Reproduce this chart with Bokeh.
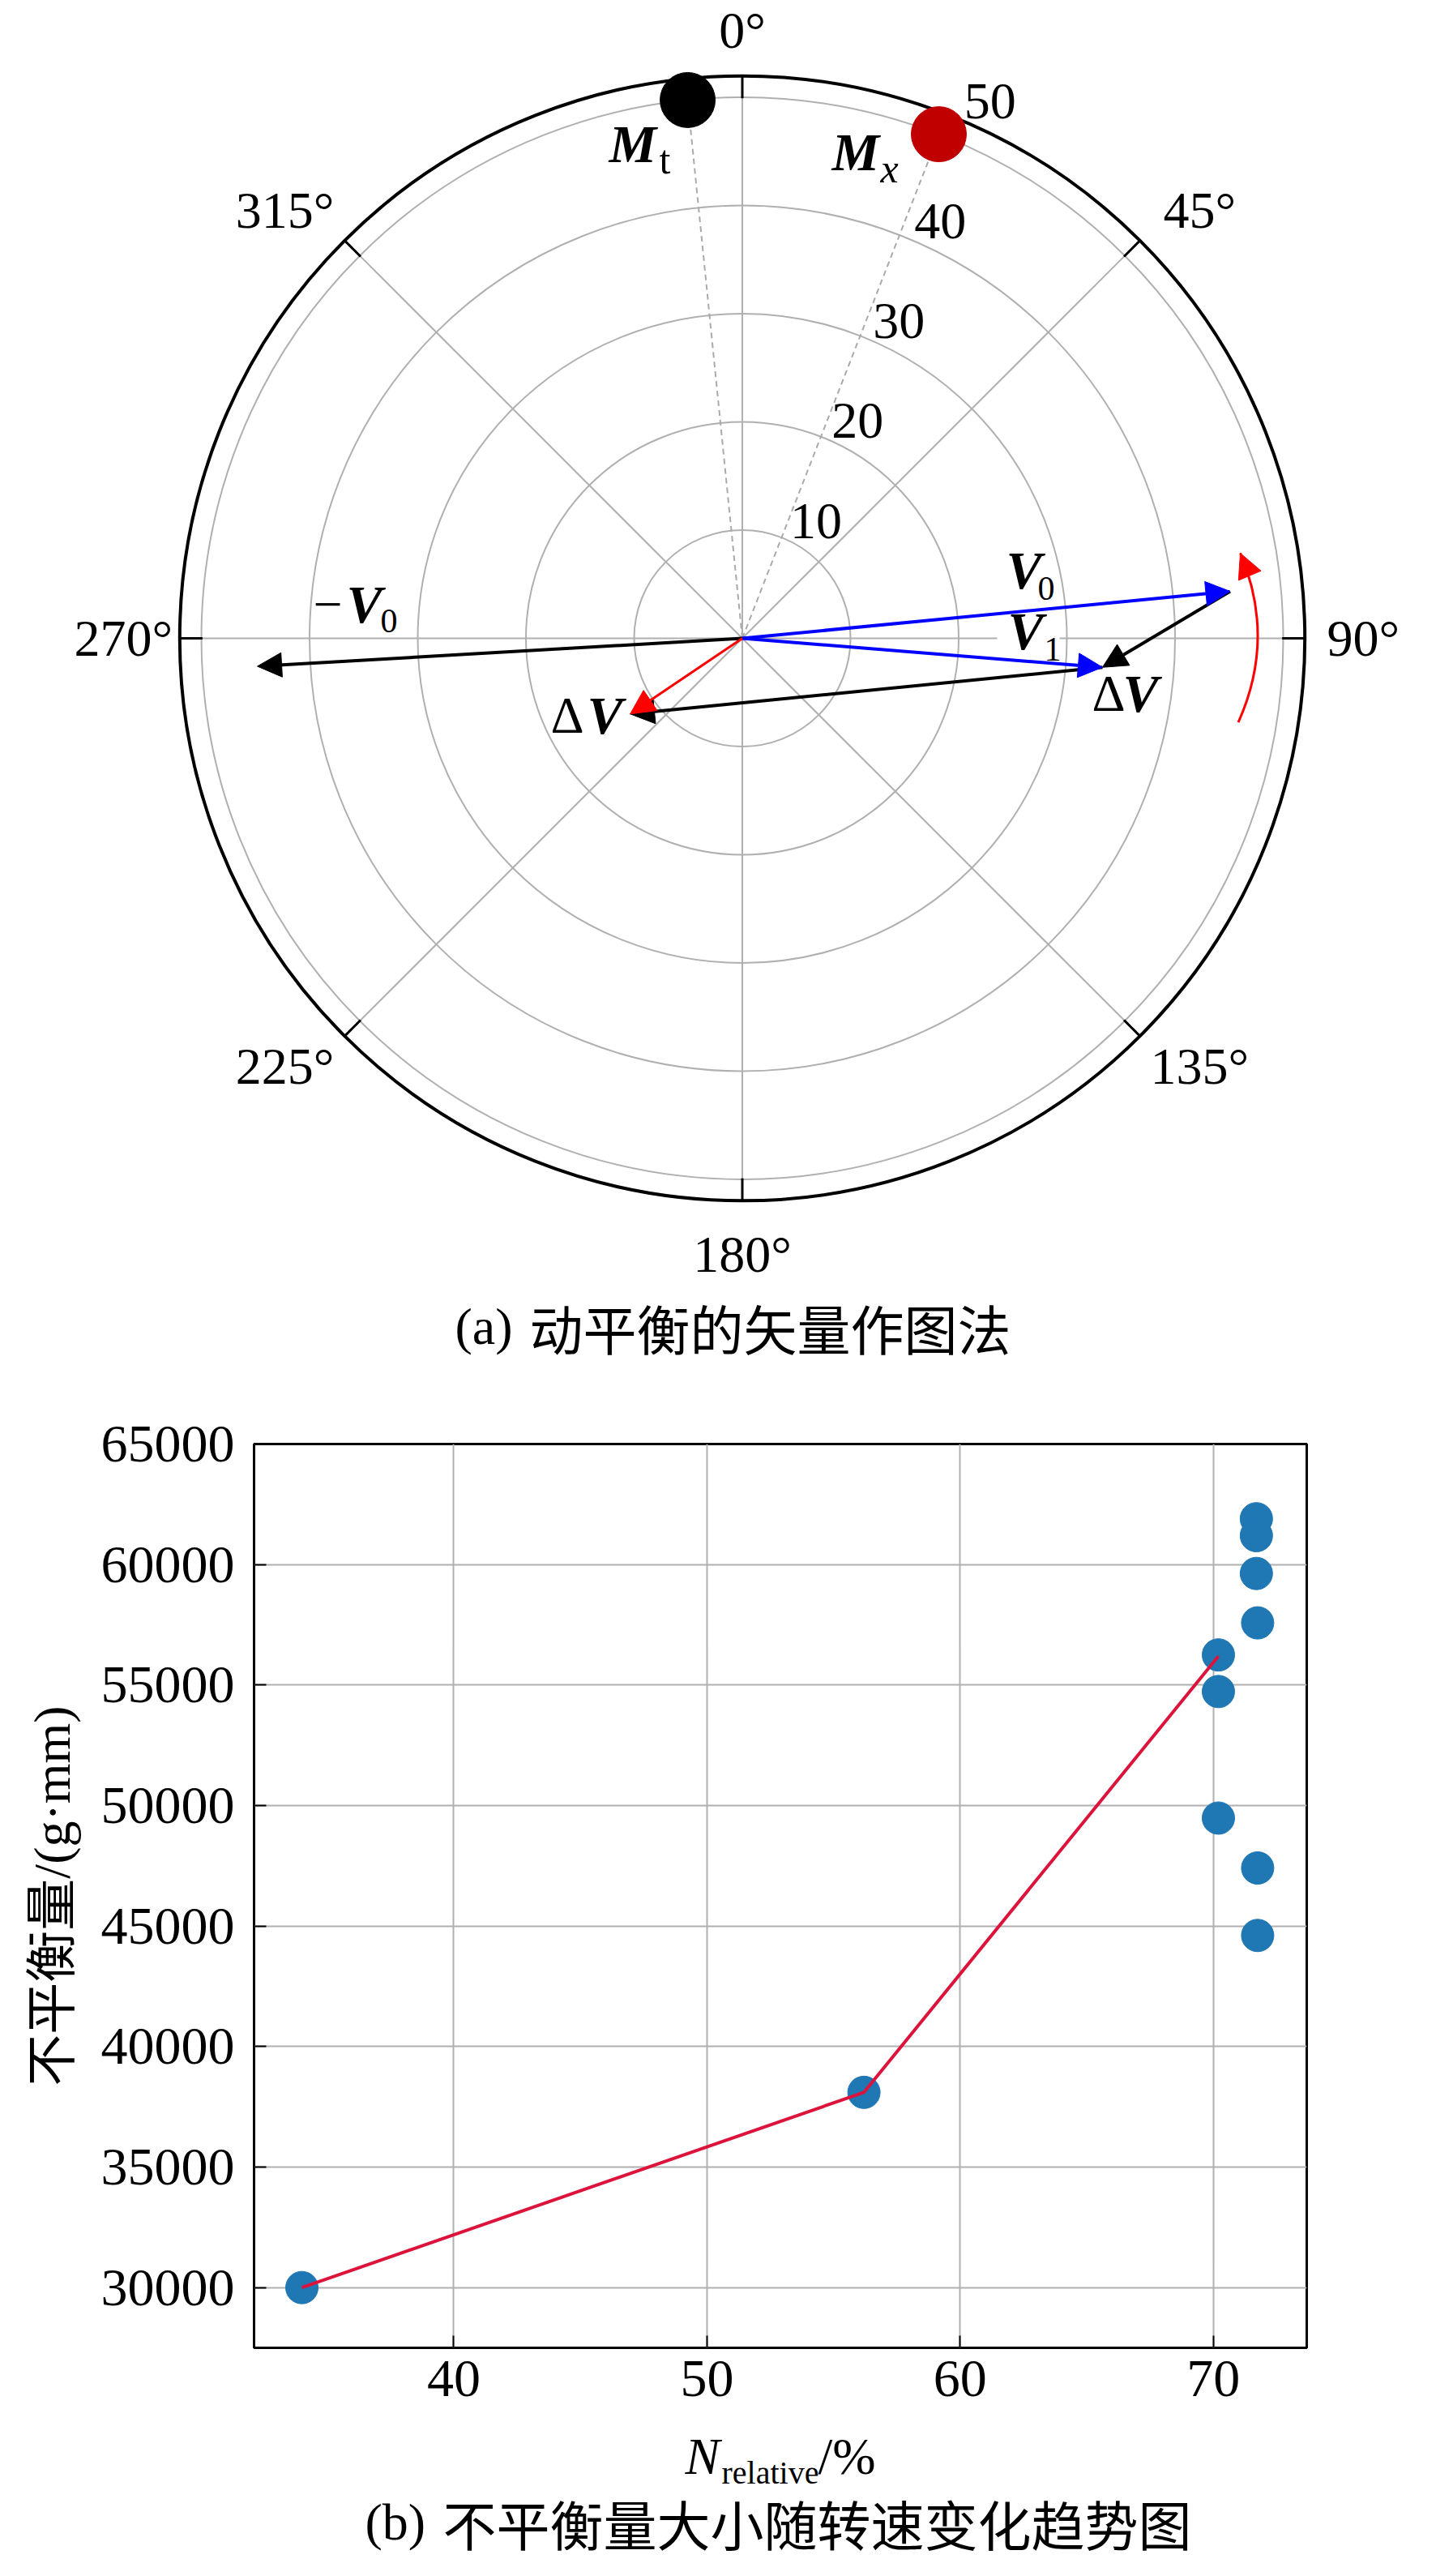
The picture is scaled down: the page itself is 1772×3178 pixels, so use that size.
import numpy as np
from bokeh.plotting import figure
from bokeh.models import (Range1d, ColumnDataSource, Arrow, NormalHead,
                          FixedTicker, BasicTickFormatter)
from bokeh.embed import file_html
from bokeh.resources import INLINE
from bokeh.core.properties import value

# ---------------- data: (a) polar vector diagram ----------------
ANGLE_TICKS = [0, 45, 90, 135, 180, 225, 270, 315]
ANGLE_LABELS = ["0°", "45°", "90°", "135°", "180°", "225°", "270°", "315°"]
ANGLE_LABEL_THETA = [0, 46.9, 90, 133.1, 180, 226.9, 270, 313.1]
ANGLE_LABEL_R = [56.2, 57.9, 57.4, 57.9, 56.9, 57.9, 57.2, 57.9]
RADIAL_TICKS = [10, 20, 30, 40, 50]
RADIAL_LABELS = ["10", "20", "30", "40", "50"]
RADIAL_LABEL_POS = [10, 20, 30, 40, 52]
R_MAX = 52
MASS_R = [50, 50]            # Mt, Mx
MASS_THETA = [354.2, 21.3]   # degrees, clockwise from top
MASS_COLORS = ["#000000", "#c00000"]
V0 = (45.3, 84.5)            # (r, theta)
V1 = (33.4, 94.6)
NEG_V0 = (44.9, 266.7)
DV = (12.5, 236.0)
ROT_START = (46.5, 99.6)
ROT_END = (46.7, 80.3)
ROT_BULGE = 3.4

# ---------------- data: (b) unbalance vs speed ----------------
N_RELATIVE = [34.0, 56.2, 70.2, 70.2, 70.2, 71.7, 71.7, 71.7, 71.75, 71.75, 71.75]
UNBALANCE = [30000, 38100, 56250, 54730, 49480, 61900, 61200, 59630, 57580, 47410, 44610]
TREND_N = [34.0, 56.2, 70.2]
TREND_U = [30000, 38100, 56200]
X_TICKS = [40, 50, 60, 70]
Y_TICKS = [30000, 35000, 40000, 45000, 50000, 55000, 60000, 65000]

SERIF = "Liberation Serif"
CJK = "Noto Sans CJK SC"
MIXED = "'Liberation Serif', 'Noto Sans CJK SC'"
GRID = "#b0b0b0"
W = 1756
MID = 0.3375   # middle of the em box above the alphabetic baseline (em units)


def pol(r, th):
    t = np.radians(np.asarray(th, dtype=float))
    r = np.asarray(r, dtype=float)
    return r * np.sin(t), r * np.cos(t)


# ================= figure (a) =================
H1 = 1700
CXp, CYp = 915.5, 787.0   # pixel position of pole inside figure
S = 13.35                 # pixels per radial unit


def txy(ox, oy):
    """page pixel -> data coords of the polar figure"""
    return (ox - 8 - CXp) / S, (CYp - (oy - 8)) / S


p1 = figure(width=W, height=H1, output_backend="svg", toolbar_location=None,
            x_range=Range1d(-CXp / S, (W - CXp) / S),
            y_range=Range1d(-(H1 - CYp) / S, CYp / S),
            x_axis_location=None, y_axis_location=None, min_border=0,
            outline_line_color=None)
p1.grid.visible = False

# rings and spokes
p1.circle(x=[0] * len(RADIAL_TICKS), y=[0] * len(RADIAL_TICKS), radius=RADIAL_TICKS,
          fill_color=None, line_color=GRID, line_width=2)
sx, sy = pol([R_MAX] * len(ANGLE_TICKS), ANGLE_TICKS)
p1.segment(x0=[0] * len(ANGLE_TICKS), y0=[0] * len(ANGLE_TICKS), x1=sx, y1=sy,
           line_color=GRID, line_width=2)

# white background behind V1 label (covers grid line)
bx0, by0 = txy(1238, 782)
bx1, by1 = txy(1315, 808)
p1.quad(left=[bx0], right=[bx1], bottom=[by1], top=[by0], fill_color="white", line_color=None)

# dashed lines to masses
mx, my = pol(MASS_R, MASS_THETA)
p1.segment(x0=[0, 0], y0=[0, 0], x1=mx, y1=my, line_color="#aaaaaa", line_width=2,
           line_dash="7 5")

# outer circle and ticks
p1.circle(x=[0], y=[0], radius=[R_MAX], fill_color=None, line_color="black", line_width=4)
tx0, ty0 = pol([R_MAX - 2.1] * len(ANGLE_TICKS), ANGLE_TICKS)
p1.segment(x0=tx0, y0=ty0, x1=sx, y1=sy, line_color="black", line_width=3)

# masses
p1.scatter(mx, my, size=68, color=MASS_COLORS)

# angle labels
ax_, ay_ = pol(ANGLE_LABEL_R, ANGLE_LABEL_THETA)
p1.text(ax_, ay_, text=ANGLE_LABELS, text_font=value(SERIF), text_font_size="64px",
        text_align="center", text_baseline="middle", text_color="black")
# radial labels (baseline on the 22.5 deg ray)
rx, ry = pol(RADIAL_LABEL_POS, [22.5] * len(RADIAL_LABEL_POS))
p1.text(rx + 8 / S, ry + MID * 64 / S, text=RADIAL_LABELS, text_font=value(SERIF),
        text_font_size="64px", text_align="left", text_baseline="middle", text_color="black")


def put(ox, base_y, s, size=66, style="normal", font=SERIF):
    """left edge ox, alphabetic baseline base_y (page pixels)"""
    x, y = txy(ox, base_y - MID * size)
    p1.text([x], [y], text=[s], text_font=value(font), text_font_size=f"{size}px",
            text_font_style=style, text_align="left", text_baseline="middle", text_color="black")


# M labels
put(759, 207, "M", style="bold italic")
put(821, 221, "t", size=50)
put(1034, 217, "M", style="bold italic")
put(1094, 232, "x", size=50, style="italic")
# V labels
put(1249, 733, "V", style="bold italic")
put(1288, 748, "0", size=42)
put(1251, 808, "V", style="bold italic")
put(1296, 823, "1", size=42)
put(394, 775, "\u2212", size=64)
put(435, 775, "V", style="bold italic")
put(477, 788, "0", size=42)
put(1355, 885, "\u0394", size=64)
put(1393, 885, "V", style="bold italic")
put(687, 912, "\u0394", size=64)
put(732, 912, "V", style="bold italic")

# caption (a)
xa, ya = txy(569, 1644)
p1.text([xa], [ya], text=["(a)"], text_font=value(SERIF), text_font_size="64px",
        text_align="left", text_baseline="middle", text_color="black")
xa, ya = txy(661, 1644)
p1.text([xa], [ya], text=["动平衡的矢量作图法"], text_font=value(CJK), text_font_size="66px",
        text_align="left", text_baseline="middle", text_color="black")

# vectors
v0x, v0y = pol(V0[0], V0[1])
v1x, v1y = pol(V1[0], V1[1])
nvx, nvy = pol(NEG_V0[0], NEG_V0[1])
dvx, dvy = pol(DV[0], DV[1])

blue = ColumnDataSource(dict(x0=[0, 0], y0=[0, 0], x1=[float(v0x), float(v1x)], y1=[float(v0y), float(v1y)]))
black = ColumnDataSource(dict(x0=[0, float(v0x), float(v1x)], y0=[0, float(v0y), float(v1y)],
                              x1=[float(nvx), float(v1x), float(dvx)], y1=[float(nvy), float(v1y), float(dvy)]))
red = ColumnDataSource(dict(x0=[0], y0=[0], x1=[float(dvx)], y1=[float(dvy)]))

for src, col, lw in [(black, "black", 4), (blue, "#0000ff", 4), (red, "#ff0000", 3)]:
    p1.add_layout(Arrow(source=src, x_start="x0", y_start="y0", x_end="x1", y_end="y1",
                        line_color=col, line_width=lw,
                        end=NormalHead(size=30, fill_color=col, line_color=col, line_width=1)))

# rotation arc (red)
asx, asy = pol(ROT_START[0], ROT_START[1])
aex, aey = pol(ROT_END[0], ROT_END[1])
mxm, mym = (asx + aex) / 2, (asy + aey) / 2
chx, chy = aex - asx, aey - asy
ln = np.hypot(chx, chy)
ctrl_x, ctrl_y = mxm + ROT_BULGE * chy / ln, mym - ROT_BULGE * chx / ln
p1.quadratic(x0=[float(asx)], y0=[float(asy)], x1=[float(aex)], y1=[float(aey)],
             cx=[float(ctrl_x)], cy=[float(ctrl_y)], line_color="#ff0000", line_width=3)
arc_src = ColumnDataSource(dict(x0=[float(ctrl_x)], y0=[float(ctrl_y)], x1=[float(aex)], y1=[float(aey)]))
p1.add_layout(Arrow(source=arc_src, x_start="x0", y_start="y0", x_end="x1", y_end="y1",
                    line_alpha=0, line_width=1,
                    end=NormalHead(size=30, fill_color="#ff0000", line_color="#ff0000", line_width=1)))

# ================= figure (b) =================
H2 = 1292          # page y 1708 .. 3000
XR = (32.11, 73.69)
YR = (27500, 65000)
p2 = figure(width=W, height=H2, output_backend="svg", toolbar_location=None,
            x_range=Range1d(*XR), y_range=Range1d(*YR),
            min_border_left=313, min_border_right=144, min_border_top=81, min_border_bottom=96)
p2.outline_line_color = "black"
p2.outline_line_width = 3
for ax in (p2.xaxis[0], p2.yaxis[0]):
    ax.axis_line_color = None
    ax.major_tick_in = 15
    ax.major_tick_out = 0
    ax.major_tick_line_width = 2
    ax.major_tick_line_color = "black"
    ax.minor_tick_line_color = None
    ax.major_label_text_font = SERIF
    ax.major_label_text_font_size = "66px"
    ax.major_label_text_color = "black"
p2.xaxis.ticker = FixedTicker(ticks=X_TICKS)
p2.yaxis.ticker = FixedTicker(ticks=Y_TICKS)
p2.yaxis.formatter = BasicTickFormatter(use_scientific=False)
p2.xaxis.major_label_standoff = 16
p2.yaxis.major_label_standoff = 24
p2.yaxis.axis_label = "不平衡量/(g·mm)"
p2.yaxis.axis_label_text_font = MIXED
p2.yaxis.axis_label_text_font_size = "64px"
p2.yaxis.axis_label_text_font_style = "normal"
p2.yaxis.axis_label_text_color = "black"
p2.yaxis.axis_label_standoff = 22
p2.xgrid.ticker = FixedTicker(ticks=X_TICKS)
p2.ygrid.ticker = FixedTicker(ticks=Y_TICKS)
p2.grid.grid_line_color = GRID
p2.grid.grid_line_width = 2

p2.scatter(N_RELATIVE, UNBALANCE, size=40, color="#1f77b4")
p2.line(TREND_N, TREND_U, line_color="#dc143c", line_width=4)

# ================= x label + caption (b) =================
H3 = 170           # page y 3000 .. 3170
p3 = figure(width=W, height=H3, output_backend="svg", toolbar_location=None,
            x_range=Range1d(0, W), y_range=Range1d(H3, 0),
            x_axis_location=None, y_axis_location=None, min_border=0,
            outline_line_color=None)
p3.grid.visible = False


def put3(ox, mid_y, s, size=64, style="normal", font=SERIF):
    p3.text([ox - 8], [mid_y - 3000], text=[s], text_font=value(font), text_font_size=f"{size}px",
            text_font_style=style, text_align="left", text_baseline="middle", text_color="black")


put3(853, 3060 - MID * 64, "N", style="italic")
put3(898, 3071 - MID * 40, "relative", size=40)
put3(1017, 3060 - MID * 64, "/%")
put3(458, 3119, "(b)")
put3(554, 3119, "不平衡量大小随转速变化趋势图", size=66, font=CJK)

open("out.html", "w").write(file_html([p1, p2, p3], INLINE))
